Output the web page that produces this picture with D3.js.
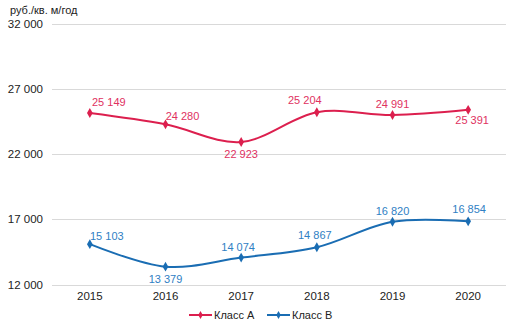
<!DOCTYPE html>
<html>
<head>
<meta charset="utf-8">
<script src="https://cdn.jsdelivr.net/npm/d3@7"></script>
<style>
  html, body { margin: 0; padding: 0; background: #fff; }
  svg { display: block; font-family: "Liberation Sans", Arial, sans-serif; }
</style>
</head>
<body>
<div id="chart"></div>
<script>
const years = ['2015', '2016', '2017', '2018', '2019', '2020']
const classA = [25149, 24280, 22923, 25204, 24991, 25391]
const classB = [15103, 13379, 14074, 14867, 16820, 16854]
const yTicks = [12000, 17000, 22000, 27000, 32000]
const seriesNames = ['Класс А', 'Класс В']
const unitLabel = 'руб./кв. м/год'

// where each value label sits relative to its point
const labelPosA = [[19, -11], [17, -8], [0, 12], [-12, -12], [0, -11], [4, 10]]
const labelPosB = [[17, -8], [0, 12], [-3, -11], [-2, -12], [0, -11], [1, -12]]

const width = 520
const height = 331
const colorA = '#dc1f4e'
const colorB = '#1a6db3'
const labelColorA = '#e0325f'
const labelColorB = '#2f80c4'

const svg = d3.select('#chart').append('svg')
  .attr('width', width)
  .attr('height', height)

const x = d3.scaleBand()
  .domain(years)
  .range([52, 506])

const y = d3.scaleLinear()
  .domain([12000, 32000])
  .range([284.7, 23.5])

const fmt = v => d3.format(',')(v).replace(',', ' ')

// grid + y tick labels
svg.append('g')
  .selectAll('line')
  .data(yTicks)
  .enter()
  .append('line')
  .attr('x1', 52)
  .attr('x2', 506)
  .attr('y1', d => Math.round(y(d)) + 0.5)
  .attr('y2', d => Math.round(y(d)) + 0.5)
  .attr('stroke', '#d9d9d9')
  .attr('stroke-width', 1)

svg.append('g')
  .selectAll('text')
  .data(yTicks)
  .enter()
  .append('text')
  .attr('x', 43)
  .attr('y', d => y(d) + 4)
  .attr('text-anchor', 'end')
  .attr('font-size', 11.5)
  .attr('fill', '#222')
  .text(fmt)

svg.append('text')
  .attr('x', 10)
  .attr('y', 14)
  .attr('font-size', 11)
  .attr('fill', '#222')
  .text(unitLabel)

// x axis labels
svg.append('g')
  .selectAll('text')
  .data(years)
  .enter()
  .append('text')
  .attr('x', d => x(d) + x.bandwidth() / 2)
  .attr('y', 300)
  .attr('text-anchor', 'middle')
  .attr('font-size', 11.5)
  .attr('fill', '#222')
  .text(d => d)

const line = d3.line()
  .x((d, i) => x(years[i]) + x.bandwidth() / 2)
  .y(d => y(d))
  .curve(d3.curveCardinal)

const diamond = d3.symbol().type(d3.symbolDiamond).size(28)

function drawSeries (values, color, labelColor, labelPos) {
  const g = svg.append('g')
  g.append('path')
    .datum(values)
    .attr('d', line)
    .attr('fill', 'none')
    .attr('stroke', color)
    .attr('stroke-width', 2)

  g.selectAll('path.marker')
    .data(values)
    .enter()
    .append('path')
    .attr('class', 'marker')
    .attr('d', diamond)
    .attr('fill', color)
    .attr('transform', (d, i) => `translate(${x(years[i]) + x.bandwidth() / 2},${y(d)})`)

  g.selectAll('text')
    .data(values)
    .enter()
    .append('text')
    .attr('x', (d, i) => x(years[i]) + x.bandwidth() / 2 + labelPos[i][0])
    .attr('y', (d, i) => y(d) + labelPos[i][1] + 4)
    .attr('text-anchor', 'middle')
    .attr('font-size', 11)
    .attr('fill', labelColor)
    .text(fmt)
}

drawSeries(classA, colorA, labelColorA, labelPosA)
drawSeries(classB, colorB, labelColorB, labelPosB)

// legend
const legend = svg.append('g').attr('transform', 'translate(189,315)')
const legendItems = legend.selectAll('g')
  .data(seriesNames)
  .enter()
  .append('g')
  .attr('transform', (d, i) => `translate(${i * 78},0)`)

legendItems.append('line')
  .attr('x1', 0)
  .attr('x2', 23)
  .attr('stroke', (d, i) => i ? colorB : colorA)
  .attr('stroke-width', 2)

legendItems.append('path')
  .attr('d', d3.symbol().type(d3.symbolDiamond).size(18))
  .attr('transform', 'translate(11.5,0)')
  .attr('fill', (d, i) => i ? colorB : colorA)

legendItems.append('text')
  .attr('x', 25)
  .attr('y', 4)
  .attr('font-size', 11)
  .attr('fill', '#222')
  .text(d => d)
</script>
</body>
</html>
